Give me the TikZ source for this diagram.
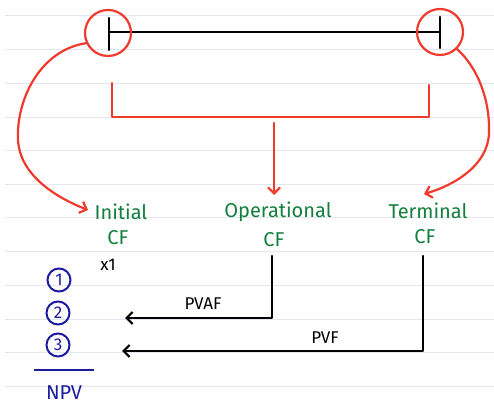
\documentclass[tikz,border=0pt]{standalone}
\usepackage{fontspec}
\setmainfont{Fira Sans}
\usetikzlibrary{arrows.meta}
\definecolor{rulecol}{HTML}{E3E7F0}
\definecolor{penred}{HTML}{F03A2E}
\definecolor{pengreen}{HTML}{12803C}
\definecolor{penblue}{HTML}{1C1CA0}
\tikzset{
  redline/.style={draw=penred, line width=2.2pt, line cap=round, line join=round},
  blackline/.style={draw=black, line width=2.4pt, line cap=round, line join=round},
  redcirc/.style={circle, draw=penred, line width=2.2pt, minimum size=46pt, inner sep=0pt},
  bluecirc/.style={circle, draw=penblue, line width=2pt, minimum size=23pt, inner sep=0pt, text=penblue, font=\fontsize{17}{17}\selectfont},
  greentxt/.style={text=pengreen, font=\fontsize{20}{20}\selectfont, inner sep=0pt},
  blacktxt/.style={text=black, font=\fontsize{17}{17}\selectfont, inner sep=0pt},
  bluetxt/.style={text=penblue, font=\fontsize{20}{20}\selectfont, inner sep=0pt},
  tip/.style={-{Straight Barb[length=6pt,width=12pt,line width=2.2pt]}},
}
\begin{document}
\begin{tikzpicture}[x=1pt,y=-1pt]
\useasboundingbox (0,0) rectangle (494,419);
\fill[white] (0,0) rectangle (494,419);
% notebook rules
\foreach \yy in {15,49,83,117,150,184,217,251,285,319,352,386}
  \draw[rulecol, line width=0.9pt] (5,\yy) -- (494,\yy);
% timeline
\coordinate (lt) at (109,32);
\coordinate (rt) at (440,32);
\draw[blackline] (lt) -- (rt);
\draw[blackline] (109,18) -- (109,50);
\draw[blackline] (440,17) -- (440,48);
\node[redcirc] (lc) at (108,33) {};
\node[redcirc] (rc) at (440,32) {};
% bracket
\coordinate (bl) at (112,83);
\coordinate (br) at (429,85);
\coordinate (stem) at (274,123);
\draw[redline] (bl) -- (112,117) -- (429,117) -- (br);
% texts
\node[greentxt] (ini) at (121,212) {Initial};
\node[greentxt] (inicf) at (118,238) {CF};
\node[greentxt] (ope) at (278,212) {Operational};
\node[greentxt] (opecf) at (274,240) {CF};
\node[greentxt] (ter) at (428,211) {Terminal};
\node[greentxt] (tercf) at (425,237) {CF};
\node[blacktxt] (x1) at (108,265) {x1};
% red arrows
\coordinate (opetip) at (274,195);
\draw[redline,tip] (stem) -- (opetip);
\coordinate (initip) at (88,210);
\draw[redline,tip] (lc.205) .. controls (40,50) and (16,100) .. (18,140)
  .. controls (20,175) and (55,197) .. (initip);
\coordinate (tertip) at (424,194);
\draw[redline,tip] (rc.-45) .. controls (478,68) and (490,100) .. (489,133)
  .. controls (488,165) and (455,185) .. (tertip);
% black connectors
\coordinate (pvaftip) at (125,318);
\coordinate (pvftip) at (122,351);
\draw[blackline,tip] (272,256) -- (272,318) -- (pvaftip);
\draw[blackline,tip] (423,256) -- (423,351) -- (pvftip);
\node[blacktxt] (pvaf) at (203,304) {PVAF};
\node[blacktxt] (pvf) at (325,338) {PVF};
% blue list
\node[bluecirc] (n1) at (59,280) {1};
\node[bluecirc] (n2) at (58,313) {2};
\node[bluecirc] (n3) at (58,345) {3};
\coordinate (ul) at (34,370);
\coordinate (ur) at (94,370);
\draw[penblue, line width=1.8pt] (ul) -- (ur);
\node[bluetxt] (npv) at (64,393) {NPV};
\end{tikzpicture}
\end{document}
